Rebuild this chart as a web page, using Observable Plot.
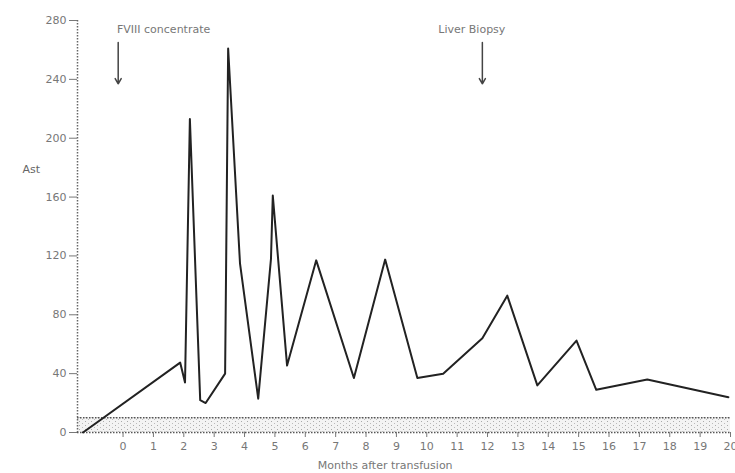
<!DOCTYPE html>
<html><head><meta charset="utf-8">
<script src="https://cdn.jsdelivr.net/npm/d3@7"></script>
<script src="https://cdn.jsdelivr.net/npm/@observablehq/plot@0.6"></script>
<style>body{margin:0;background:#fff}</style>
</head><body><div id="chart"></div>
<script>
// Data
const months = [-1.32, 1.88, 2.04, 2.2, 2.54, 2.72, 3.36, 3.46, 3.85, 4.45, 4.87, 4.93, 5.4, 6.36, 7.6, 8.63, 9.69, 10.54, 11.83, 12.65, 13.64, 14.93, 15.58, 17.26, 19.93];
const ast    = [0, 47.5, 34, 213, 22, 20, 40, 261, 115, 23, 118, 161, 45.5, 117, 37, 117.5, 37, 40, 64, 93, 32, 62.5, 29, 36, 24];
const xTicks = [0,1,2,3,4,5,6,7,8,9,10,11,12,13,14,15,16,17,18,19,20];
const yTicks = [0,40,80,120,160,200,240,280];
const xDomain = [-1.5, 20];
const yDomain = [0, 280];
const normalRange = [0, 10];
const eventLabels = ["FVIII concentrate", "Liver Biopsy"];
const eventMonths = [-0.16, 11.83];
const eventTextMonths = [-0.2, 10.38];
const eventTop = [265, 265];
const eventBottom = [237, 237];
const eventTextY = 274;
const yLabel = "Ast";
const yLabelAt = 179;
const xLabel = "Months after transfusion";
const xLabelAt = 8.63;

const data = months.map((m, i) => ({month: m, ast: ast[i]}));
const events = eventLabels.map((l, i) => ({label: l, x: eventMonths[i], tx: eventTextMonths[i], y1: eventTop[i], y2: eventBottom[i], ty: eventTextY}));
const band = [{x1: xDomain[0], x2: xDomain[1], y1: normalRange[0], y2: normalRange[1]}];
const ylab = [{x: xDomain[0], y: yLabelAt, t: yLabel}];
const xlab = [{x: xLabelAt, y: yDomain[0], t: xLabel}];

const plot = Plot.plot({
  width: 735, height: 473,
  marginLeft: 77, marginRight: 5, marginTop: 20, marginBottom: 41,
  style: {fontFamily: "DejaVu Sans", fontSize: "11px", color: "#777", background: "#fff"},
  x: {domain: xDomain},
  y: {domain: yDomain},
  marks: [
    Plot.rect(band, {x1: "x1", x2: "x2", y1: "y1", y2: "y2", fill: "url(#stipple)"}),
    Plot.ruleY(normalRange, {stroke: "#555", strokeDasharray: "1.5,1.5", strokeWidth: 1.5}),
    Plot.ruleX([xDomain[0]], {stroke: "#666", strokeDasharray: "1.5,1.5", strokeWidth: 1.5}),
    Plot.axisY({ticks: yTicks, tickSize: 8, tickPadding: 3, label: null, stroke: "#777"}),
    Plot.axisX({ticks: xTicks, tickSize: 5, tickPadding: 5, label: null, stroke: "#777"}),
    Plot.line(data, {x: "month", y: "ast", stroke: "#222", strokeWidth: 2}),
    Plot.arrow(events, {x1: "x", x2: "x", y1: "y1", y2: "y2", stroke: "#444", strokeWidth: 1.5, headLength: 6}),
    Plot.text(events, {x: "tx", y: "ty", text: "label", textAnchor: "start", fill: "#777"}),
    Plot.text(ylab, {x: "x", y: "y", text: "t", textAnchor: "start", dx: -55, fill: "#666"}),
    Plot.text(xlab, {x: "x", y: "y", text: "t", dy: 33, fill: "#777"})
  ]
});

const svg = plot.tagName.toLowerCase() === "svg" ? plot : plot.querySelector("svg");
const defs = d3.select(svg).insert("defs", ":first-child");
const p = defs.append("pattern").attr("id", "stipple").attr("width", 6).attr("height", 4).attr("patternUnits", "userSpaceOnUse");
p.append("rect").attr("width", 6).attr("height", 4).attr("fill", "#f3f3f3");
p.append("rect").attr("x", 1).attr("y", 1).attr("width", 1).attr("height", 1).attr("fill", "#aaa");
p.append("rect").attr("x", 4).attr("y", 3).attr("width", 1).attr("height", 1).attr("fill", "#bbb");
document.getElementById("chart").appendChild(plot);
</script>
</body></html>
